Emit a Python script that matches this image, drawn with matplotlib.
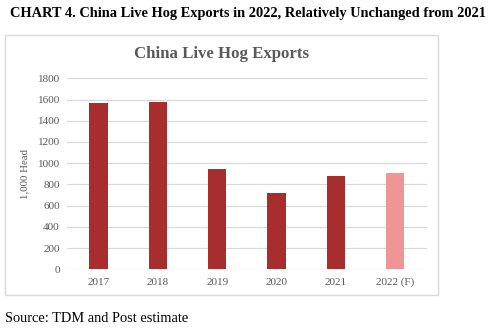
import matplotlib.pyplot as plt
from matplotlib.patches import Rectangle

years = ['2017', '2018', '2019', '2020', '2021', '2022 (F)']
exports = [1565, 1580, 945, 720, 880, 905]
bar_colors = ['#A82D2D'] * 5 + ['#EF9596']
yticks = list(range(0, 1801, 200))

plt.rcParams['font.family'] = ['Liberation Serif', 'DejaVu Serif']

fig = plt.figure(figsize=(4.99, 3.34), dpi=100)
fig.patch.set_facecolor('white')

# chart frame
fig.patches.append(Rectangle((5 / 499, 1 - 295 / 334), 433 / 499, 260 / 334,
                             transform=fig.transFigure, fill=False,
                             edgecolor='#D9D9D9', linewidth=1))

ax = fig.add_axes([66.7 / 499, 1 - 269.3 / 334, 360 / 499, 191 / 334])
x = range(len(years))
ax.bar(x, exports, width=0.31, color=bar_colors, zorder=3)
ax.set_xlim(-0.535, 5.53)
ax.set_ylim(0, 1800)
ax.set_yticks(yticks)
ax.set_xticks(list(x))
ax.set_xticklabels(years)
ax.grid(axis='y', color='#D9D9D9', linewidth=0.9, zorder=0)
for s in ax.spines.values():
    s.set_visible(False)
ax.tick_params(length=0, labelsize=8, colors='#595959', pad=6)
ax.tick_params(axis='y', pad=5)
ax.set_ylabel('1,000 Head', fontsize=7.8, color='#595959')
ax.yaxis.set_label_coords(-37 / 360, 0.5)

fig.text(5 / 499 + 0.5 * 433 / 499, 1 - 54 / 334, 'China Live Hog Exports',
         ha='center', va='center', fontsize=12.1, fontweight='bold', color='#595959')
fig.text(10 / 499, 1 - 14 / 334,
         'CHART 4. China Live Hog Exports in 2022, Relatively Unchanged from 2021',
         ha='left', va='center', fontsize=10.4, fontweight='bold', color='black')
fig.text(5 / 499, 1 - 318 / 334, 'Source: TDM and Post estimate',
         ha='left', va='center', fontsize=10.4, color='black')

fig.savefig('out.png', dpi=100)
